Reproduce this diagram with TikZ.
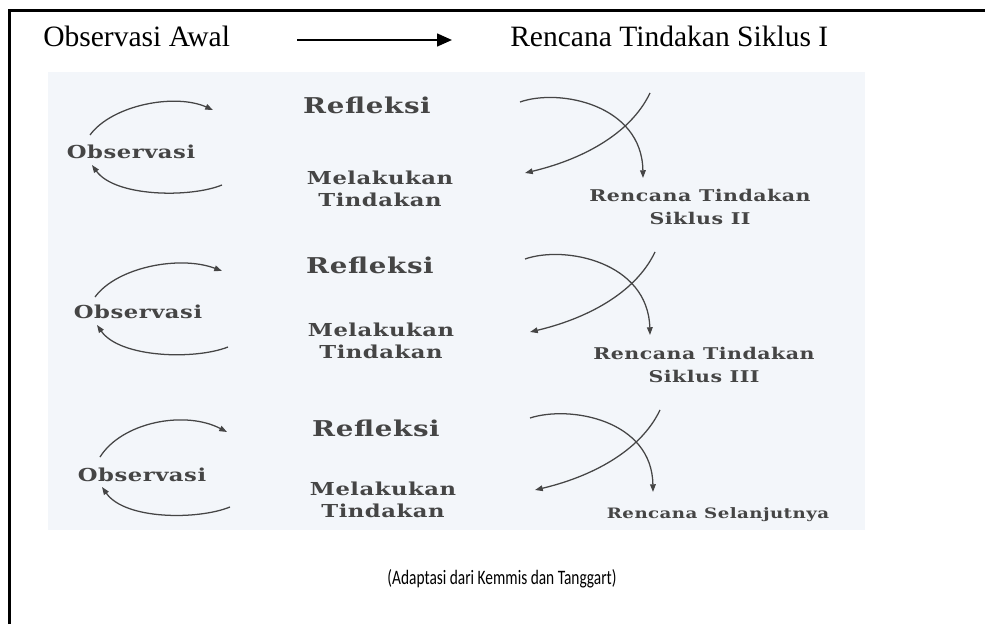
\documentclass[tikz,border=0pt]{standalone}
\usepackage{fontspec}
\setmainfont{Liberation Serif}
\newfontfamily\scanfont{DejaVu Serif}[FakeStretch=1.27,LetterSpace=3]
\newfontfamily\capfont{Carlito}[FakeStretch=0.75]
\usepackage{xcolor}
\usepackage{tikz}
\usetikzlibrary{
    positioning,
    arrows.meta,
    calc
}

\definecolor{scanbg}{HTML}{F3F6FA}
\definecolor{scanink}{HTML}{454545}

\tikzset{
    head/.style={inner sep=0pt, font=\fontsize{21}{25}\selectfont},
    scan/.style={inner sep=0pt, text=scanink, align=center,
        font=\scanfont\bfseries\fontsize{12.7}{16}\selectfont},
    refl/.style={scan, font=\scanfont\bfseries\fontsize{15.5}{17}\selectfont},
    plan/.style={scan, font=\scanfont\bfseries\fontsize{11.5}{16.5}\selectfont},
    cyc/.style={draw=scanink, line width=0.9pt, -{Triangle[length=5.5pt,width=4pt]}},
    headarrow/.style={line width=1.4pt, -{Triangle[length=10.5pt,width=9pt]}}
}

\begin{document}
\begin{tikzpicture}[x=0.025cm, y=-0.025cm]
    \useasboundingbox (0,0) rectangle (985,624);
    % bingkai dan latar gambar
    \draw[line width=1.6pt] (9.5,624) -- (9.5,10.5) -- (985,10.5);
    \fill[scanbg] (48,72) rectangle (865,530);

    % judul
    \node[head, anchor=base west] (awal) at (43,47) {Observasi Awal};
    \node[head, anchor=base west] (siklus) at (510,47) {Rencana Tindakan Siklus I};
    \draw[headarrow] ([shift={(67,-7)}]awal.base east) -- ([shift={(-58,-7)}]siklus.base west);

    % siklus 1
    \node[scan] (obs1) at (131,152) {Observasi};
    \node[refl] (ref1) at (367,105) {Refleksi};
    \node[scan] (mel1) at (380,189) {Melakukan\\Tindakan};
    \node[plan] (ren1) at (700,207) {Rencana Tindakan\\Siklus II};
    \coordinate (u1a) at (90,135);  \coordinate (u1b) at (213,110);
    \coordinate (l1a) at (222,185); \coordinate (l1b) at (92,165);
    \coordinate (p1a) at (520,102); \coordinate (p1b) at (643,178);
    \coordinate (q1a) at (650,93);  \coordinate (q1b) at (525,173);
    \draw[cyc] (u1a) .. controls (112,105) and (175,93) .. (u1b);
    \draw[cyc] (l1a) .. controls (190,198) and (115,197) .. (l1b);
    \draw[cyc] (p1a) .. controls (560,88) and (642,105) .. (p1b);
    \draw[cyc] (q1a) .. controls (630,135) and (580,160) .. (q1b);

    % siklus 2
    \node[scan] (obs2) at (138,312) {Observasi};
    \node[refl] (ref2) at (370,265) {Refleksi};
    \node[scan] (mel2) at (381,341) {Melakukan\\Tindakan};
    \node[plan] (ren2) at (704,365) {Rencana Tindakan\\Siklus III};
    \coordinate (u2a) at (95,297);  \coordinate (u2b) at (222,271);
    \coordinate (l2a) at (228,347); \coordinate (l2b) at (97,325);
    \coordinate (p2a) at (525,259); \coordinate (p2b) at (650,335);
    \coordinate (q2a) at (655,252); \coordinate (q2b) at (530,332);
    \draw[cyc] (u2a) .. controls (117,267) and (180,255) .. (u2b);
    \draw[cyc] (l2a) .. controls (195,360) and (120,358) .. (l2b);
    \draw[cyc] (p2a) .. controls (565,245) and (648,262) .. (p2b);
    \draw[cyc] (q2a) .. controls (635,294) and (585,319) .. (q2b);

    % siklus 3
    \node[scan] (obs3) at (142,475) {Observasi};
    \node[refl] (ref3) at (376,428) {Refleksi};
    \node[scan] (mel3) at (383,500) {Melakukan\\Tindakan};
    \node[plan, anchor=base, font=\scanfont\bfseries\fontsize{10.2}{12}\selectfont] (ren3) at (718,518) {Rencana Selanjutnya};
    \coordinate (u3a) at (100,457); \coordinate (u3b) at (227,432);
    \coordinate (l3a) at (230,507); \coordinate (l3b) at (102,487);
    \coordinate (p3a) at (530,418); \coordinate (p3b) at (653,492);
    \coordinate (q3a) at (660,410); \coordinate (q3b) at (535,490);
    \draw[cyc] (u3a) .. controls (122,422) and (185,410) .. (u3b);
    \draw[cyc] (l3a) .. controls (198,520) and (125,520) .. (l3b);
    \draw[cyc] (p3a) .. controls (570,405) and (652,420) .. (p3b);
    \draw[cyc] (q3a) .. controls (640,452) and (590,477) .. (q3b);

    % sumber
    \node[inner sep=0pt, font=\capfont\fontsize{14.6}{17}\selectfont] (sumber) at (502,579)
        {(Adaptasi dari Kemmis dan Tanggart)};
\end{tikzpicture}
\end{document}
